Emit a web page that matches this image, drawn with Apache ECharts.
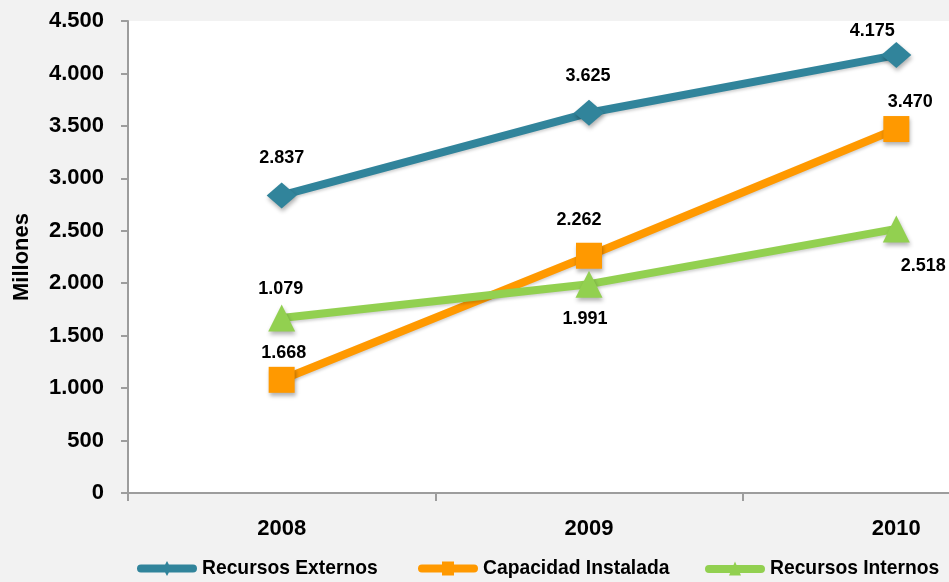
<!DOCTYPE html>
<html>
<head>
<meta charset="utf-8">
<script src="https://cdn.jsdelivr.net/npm/echarts@6/dist/echarts.min.js"></script>
<style>
html,body{margin:0;padding:0;background:#f2f2f2;}
#chart{width:949px;height:582px;}
</style>
</head>
<body>
<div id="chart"></div>
<script>
var categories = ['2008', '2009', '2010'];
var externos = [2837, 3625, 4175];
var capacidad = [1079, 2262, 3470];
var internos = [1668, 1991, 2518];
var externosLabels = ['2.837', '3.625', '4.175'];
var capacidadLabels = ['1.668', '2.262', '3.470'];
var internosLabels = ['1.079', '1.991', '2.518'];
var yTicks = [0, 500, 1000, 1500, 2000, 2500, 3000, 3500, 4000, 4500];
var seriesNames = ['Recursos Externos', 'Capacidad Instalada', 'Recursos Internos'];

var externosOffsets = [[0, -37], [-1, -37], [-24, -24]];
var capacidadOffsets = [[2, -27], [-10, -36], [14, -27]];
var internosOffsets = [[-1, -29], [-4, 35], [27, 37]];

var FONT = "'Liberation Sans', Arial, sans-serif";

var BAR = 'M4,3.5 L56,3.5 A4,4 0 0 1 56,11.5 L4,11.5 A4,4 0 0 1 4,3.5 Z ';
var ICONS = [
  'path://' + BAR + 'M30,0 L34,7.5 L30,15 L26,7.5 Z',
  'path://' + BAR + 'M24,0.5 L36,0.5 L36,14.5 L24,14.5 Z',
  'path://' + BAR + 'M30,0 L36,14 L24,14 Z'
];
var legendLefts = [137, 418, 705];

function fmt(v) {
  return String(v).replace(/\B(?=(\d{3})+(?!\d))/g, '.');
}

function buildData(vals, labels, offsets) {
  return vals.map(function (v, i) {
    return {
      value: v,
      label: { formatter: labels[i], offset: offsets[i] }
    };
  });
}

function mkSeries(name, vals, labels, offsets, color, symbol, size) {
  return {
    name: name,
    type: 'line',
    data: buildData(vals, labels, offsets),
    symbol: symbol,
    symbolSize: size,
    lineStyle: { color: color, width: 8, shadowColor: 'rgba(0,0,0,0.18)', shadowBlur: 3, shadowOffsetY: 2 },
    itemStyle: { color: color, shadowColor: 'rgba(0,0,0,0.3)', shadowBlur: 4, shadowOffsetX: 1, shadowOffsetY: 3 },
    label: {
      show: true,
      position: 'inside',
      color: '#000',
      fontFamily: FONT,
      fontWeight: 'bold',
      fontSize: 18
    },
    emphasis: { disabled: true },
    animation: false
  };
}

var chart = echarts.init(document.getElementById('chart'));
chart.setOption({
  backgroundColor: '#f2f2f2',
  animation: false,
  grid: {
    left: 128, width: 922, top: 21, height: 472,
    outerBoundsMode: 'none',
    containLabel: false,
    show: true, backgroundColor: '#ffffff', borderWidth: 0
  },
  legend: seriesNames.map(function (n, i) {
    return {
      left: legendLefts[i], top: 559, padding: 0,
      itemWidth: 60, itemHeight: 15,
      textStyle: { color: '#000', fontFamily: FONT, fontWeight: 'bold', fontSize: 19.3 },
      data: [{ name: n, icon: ICONS[i], itemStyle: { shadowBlur: 0, shadowOffsetX: 0, shadowOffsetY: 0 } }]
    };
  }),
  xAxis: {
    type: 'category',
    data: categories,
    boundaryGap: true,
    axisLine: { lineStyle: { color: '#9d9d9d', width: 2 } },
    axisTick: { show: true, length: 8, lineStyle: { color: '#9d9d9d', width: 2 } },
    axisLabel: { color: '#000', fontFamily: FONT, fontWeight: 'bold', fontSize: 22, margin: 25 }
  },
  yAxis: {
    type: 'value',
    min: yTicks[0], max: yTicks[yTicks.length - 1], interval: yTicks[1] - yTicks[0],
    name: 'Millones',
    nameLocation: 'middle',
    nameRotate: 90,
    nameGap: 95,
    nameTextStyle: { color: '#000', fontFamily: FONT, fontWeight: 'bold', fontSize: 22 },
    axisLine: { show: true, lineStyle: { color: '#9d9d9d', width: 2 } },
    axisTick: { show: true, length: 7, lineStyle: { color: '#9d9d9d', width: 2 } },
    splitLine: { show: false },
    axisLabel: {
      color: '#000', fontFamily: FONT, fontWeight: 'bold', fontSize: 22, margin: 24,
      formatter: function (v) { return fmt(v); }
    }
  },
  series: [
    mkSeries(seriesNames[0], externos, externosLabels, externosOffsets, '#31849b', 'diamond', [30, 26]),
    mkSeries(seriesNames[1], capacidad, capacidadLabels, capacidadOffsets, '#ff9900', 'rect', 26),
    mkSeries(seriesNames[2], internos, internosLabels, internosOffsets, '#92d050', 'triangle', 27)
  ]
});
</script>
</body>
</html>
